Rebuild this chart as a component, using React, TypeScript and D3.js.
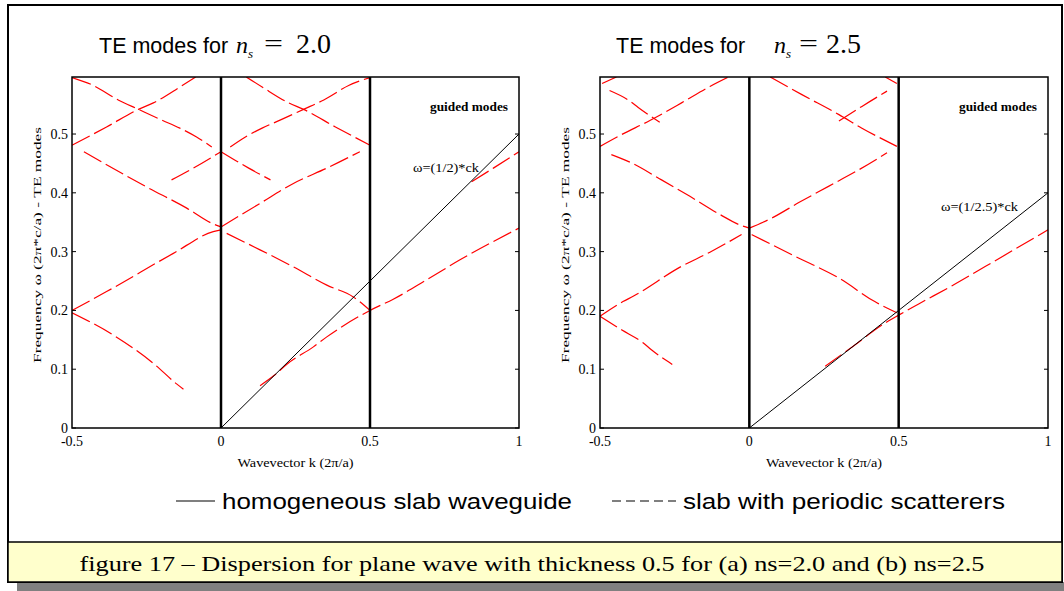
import React from "react";
import * as d3 from "d3";

// ---------- data ----------
const kTicks = [-0.5, 0, 0.5, 1];
const kTickLabels = ["-0.5", "0", "0.5", "1"];
const wTicks = [0, 0.1, 0.2, 0.3, 0.4, 0.5];
const wTickLabels = ["0", "0.1", "0.2", "0.3", "0.4", "0.5"];
const kDomain = [-0.5, 1];
const wDomain = [0, 0.597];
const zoneEdges = [0, 0.5];

// ns = 2.0 : bands of the slab with periodic scatterers
const bandsNs20: [number, number][][] = [
  [[-0.5, 0.2], [-0.384, 0.232], [-0.16, 0.297], [-0.026, 0.334], [0, 0.337]],
  [[-0.5, 0.196], [-0.361, 0.158], [-0.227, 0.11], [-0.149, 0.075], [-0.126, 0.066]],
  [[-0.46, 0.47], [-0.25, 0.41], [-0.115, 0.374], [-0.03, 0.348], [0, 0.342]],
  [[-0.5, 0.481], [-0.384, 0.512], [-0.277, 0.542], [-0.227, 0.553], [-0.138, 0.58], [-0.085, 0.597]],
  [[-0.5, 0.596], [-0.43, 0.583], [-0.345, 0.558], [-0.277, 0.542], [-0.2, 0.524], [-0.138, 0.51], [-0.082, 0.495], [-0.031, 0.478]],
  [[-0.166, 0.422], [-0.093, 0.442], [0, 0.47]],
  [[0, 0.342], [0.131, 0.382], [0.243, 0.416], [0.355, 0.442], [0.466, 0.47]],
  [[0.019, 0.331], [0.131, 0.303], [0.243, 0.274], [0.355, 0.243], [0.444, 0.223], [0.5, 0.2]],
  [[0, 0.47], [0.093, 0.442], [0.166, 0.422]],
  [[0.031, 0.478], [0.082, 0.495], [0.138, 0.51], [0.2, 0.524], [0.277, 0.542], [0.345, 0.558], [0.43, 0.583], [0.5, 0.596]],
  [[0.085, 0.597], [0.138, 0.58], [0.227, 0.553], [0.277, 0.542], [0.384, 0.512], [0.5, 0.481]],
  [[0.131, 0.072], [0.18, 0.09], [0.22, 0.108], [0.31, 0.138], [0.355, 0.155], [0.5, 0.2], [0.578, 0.219], [0.69, 0.252], [0.802, 0.286], [1, 0.34]],
  [[0.841, 0.419], [0.914, 0.442], [1, 0.47]],
];

// ns = 2.5
const bandsNs25: [number, number][][] = [
  [[-0.5, 0.19], [-0.423, 0.215], [-0.389, 0.224], [-0.227, 0.275], [-0.132, 0.299], [-0.026, 0.329]],
  [[-0.5, 0.19], [-0.428, 0.167], [-0.356, 0.145], [-0.328, 0.133], [-0.258, 0.108]],
  [[-0.462, 0.465], [-0.395, 0.451], [-0.294, 0.422], [-0.199, 0.394], [-0.098, 0.363], [-0.03, 0.345], [0, 0.34]],
  [[-0.5, 0.479], [-0.428, 0.499], [-0.333, 0.523], [-0.3, 0.532], [-0.227, 0.553], [-0.132, 0.581], [-0.07, 0.597]],
  [[-0.468, 0.574], [-0.4, 0.556], [-0.372, 0.545], [-0.3, 0.52]],
  [[-0.493, 0.586], [-0.445, 0.597]],
  [[0, 0.34], [0.075, 0.357], [0.164, 0.383], [0.265, 0.411], [0.366, 0.439], [0.461, 0.468]],
  [[0.008, 0.329], [0.153, 0.292], [0.3, 0.255], [0.42, 0.215], [0.494, 0.196]],
  [[0.07, 0.597], [0.176, 0.567], [0.3, 0.533], [0.377, 0.51], [0.494, 0.479]],
  [[0.3, 0.522], [0.377, 0.547], [0.461, 0.573]],
  [[0.455, 0.597], [0.494, 0.586]],
  [[0.254, 0.105], [0.35, 0.14], [0.45, 0.177], [0.5, 0.192], [0.567, 0.211], [0.679, 0.242], [0.791, 0.275], [1, 0.337]],
];

// homogeneous slab waveguide (light line)
const lightNs20: [number, number][] = [[0, 0], [1, 0.5]];
const lightNs25: [number, number][] = [[0, 0], [1, 0.4]];

const titleNs = ["2.0", "2.5"];
const lightLabels = ["ω=(1/2)*ck", "ω=(1/2.5)*ck"];
const yAxisTitle = "Frequency ω (2π*c/a)   -   TE modes";
const xAxisTitle = "Wavevector k (2π/a)";
const legendSolid = "homogeneous slab waveguide";
const legendDashed = "slab with periodic scatterers";
const caption = "figure 17 – Dispersion for plane wave with thickness 0.5 for (a) ns=2.0 and (b) ns=2.5";

// ---------- layout ----------
const W = 1064;
const H = 591;
const SERIF = "'Liberation Serif', 'Times New Roman', serif";
const SANS = "'Liberation Sans', Arial, sans-serif";

type PanelProps = {
  x0: number;
  x1: number;
  bands: [number, number][][];
  light: [number, number][];
  ns: string;
  lightLabel: string;
  lightLabelPos: [number, number, number];
  titleX: number;
  titleNX: number;
  titleEqX: number;
  titleNumX: number;
  yTitleX: number;
};

function Panel(p: PanelProps) {
  const top = 77;
  const bottom = 428;
  const x = d3.scaleLinear().domain(kDomain).range([p.x0, p.x1]);
  const y = d3.scaleLinear().domain(wDomain).range([bottom, top]);
  const line = d3
    .line<[number, number]>()
    .x((d) => x(d[0]))
    .y((d) => y(d[1]))
    .curve(d3.curveMonotoneX);
  const straight = d3
    .line<[number, number]>()
    .x((d) => x(d[0]))
    .y((d) => y(d[1]));
  const clipId = "clip" + p.x0;
  return (
    <g>
      <defs>
        <clipPath id={clipId}>
          <rect x={p.x0} y={top} width={p.x1 - p.x0} height={bottom - top} />
        </clipPath>
      </defs>
      {/* title */}
      <text x={p.titleX} y={53} fontFamily={SANS} fontSize={21.5} fill="#000">
        TE modes for
      </text>
      <text x={p.titleNX} y={53} fontFamily={SERIF} fontStyle="italic" fontSize={24} fill="#000">
        n
      </text>
      <text x={p.titleNX + 12} y={58} fontFamily={SERIF} fontStyle="italic" fontSize={13} fill="#000">
        s
      </text>
      <text
        x={p.titleEqX}
        y={52}
        fontFamily={SERIF}
        fontSize={25}
        textLength={19}
        lengthAdjust="spacingAndGlyphs"
        fill="#000"
      >
        =
      </text>
      <text x={p.titleNumX} y={53} fontFamily={SERIF} fontSize={28} fill="#000">
        {p.ns}
      </text>

      <g clipPath={`url(#${clipId})`}>
        {p.bands.map((b, i) => (
          <path
            key={i}
            d={line(b) || ""}
            fill="none"
            stroke="#ff0000"
            strokeWidth={1.2}
            strokeDasharray="20,5"
          />
        ))}
        <path d={straight(p.light) || ""} fill="none" stroke="#000" strokeWidth={1} />
      </g>

      {zoneEdges.map((k) => (
        <line key={k} x1={x(k)} x2={x(k)} y1={top} y2={bottom} stroke="#000" strokeWidth={2.5} />
      ))}

      <rect
        x={p.x0}
        y={top}
        width={p.x1 - p.x0}
        height={bottom - top}
        fill="none"
        stroke="#000"
        strokeWidth={1.5}
      />

      {wTicks.map((t, i) => (
        <g key={t}>
          <line x1={p.x0} x2={p.x0 + 4} y1={y(t)} y2={y(t)} stroke="#000" strokeWidth={1} />
          <line x1={p.x1} x2={p.x1 - 4} y1={y(t)} y2={y(t)} stroke="#000" strokeWidth={1} />
          <text
            x={p.x0 - 4}
            y={y(t) + 5}
            textAnchor="end"
            fontFamily={SERIF}
            fontSize={14}
            fill="#000"
          >
            {wTickLabels[i]}
          </text>
        </g>
      ))}
      {kTicks.map((t, i) => (
        <text
          key={t}
          x={x(t)}
          y={446}
          textAnchor="middle"
          fontFamily={SERIF}
          fontSize={14}
          fill="#000"
        >
          {kTickLabels[i]}
        </text>
      ))}

      <text
        x={(p.x0 + p.x1) / 2}
        y={467}
        textAnchor="middle"
        fontFamily={SERIF}
        fontSize={12}
        textLength={116}
        lengthAdjust="spacingAndGlyphs"
        fill="#000"
      >
        {xAxisTitle}
      </text>
      <text
        transform={`translate(${p.yTitleX},245) rotate(-90)`}
        textAnchor="middle"
        fontFamily={SERIF}
        fontSize={11}
        textLength={236}
        lengthAdjust="spacingAndGlyphs"
        fill="#000"
      >
        {yAxisTitle}
      </text>

      <text
        x={x(1) - 89}
        y={111}
        fontFamily={SERIF}
        fontSize={12}
        fontWeight="bold"
        textLength={78}
        lengthAdjust="spacingAndGlyphs"
        fill="#000"
      >
        guided modes
      </text>
      <text
        x={p.lightLabelPos[0]}
        y={p.lightLabelPos[1]}
        fontFamily={SERIF}
        fontSize={13}
        textLength={p.lightLabelPos[2]}
        lengthAdjust="spacingAndGlyphs"
        fill="#000"
      >
        {p.lightLabel}
      </text>
    </g>
  );
}

export default function App() {
  return (
    <svg
      width={W}
      height={H}
      style={{ position: "absolute", left: 0, top: 0, display: "block" }}
    >
      <rect x={0} y={0} width={W} height={H} fill="#fff" />
      {/* shadow */}
      <rect x={17} y={582} width={W - 17} height={9} fill="#808080" />
      {/* main frame */}
      <rect x={8} y={5} width={1054} height={577} fill="#fff" stroke="#000" strokeWidth={2} />
      {/* caption box */}
      <rect x={8} y={542} width={1054} height={40} fill="#ffffcc" stroke="#000" strokeWidth={1.5} />

      <Panel
        x0={72}
        x1={519}
        bands={bandsNs20}
        light={lightNs20}
        ns={titleNs[0]}
        lightLabel={lightLabels[0]}
        lightLabelPos={[413, 172, 66]}
        titleX={99}
        titleNX={236}
        titleEqX={264}
        titleNumX={296}
        yTitleX={41}
      />
      <Panel
        x0={600}
        x1={1048}
        bands={bandsNs25}
        light={lightNs25}
        ns={titleNs[1]}
        lightLabel={lightLabels[1]}
        lightLabelPos={[941, 211, 77]}
        titleX={616}
        titleNX={774}
        titleEqX={799}
        titleNumX={826}
        yTitleX={569}
      />

      {/* legend */}
      <line x1={176} x2={215} y1={501} y2={501} stroke="#000" strokeWidth={1.2} />
      <text
        x={222}
        y={509}
        fontFamily={SANS}
        fontSize={22}
        textLength={350}
        lengthAdjust="spacingAndGlyphs"
        fill="#000"
      >
        {legendSolid}
      </text>
      <line
        x1={612}
        x2={676}
        y1={501}
        y2={501}
        stroke="#000"
        strokeWidth={1.2}
        strokeDasharray="9,5"
      />
      <text
        x={683}
        y={509}
        fontFamily={SANS}
        fontSize={22}
        textLength={322}
        lengthAdjust="spacingAndGlyphs"
        fill="#000"
      >
        {legendDashed}
      </text>

      <text
        x={532}
        y={571}
        textAnchor="middle"
        fontFamily={SERIF}
        fontSize={21}
        textLength={905}
        lengthAdjust="spacingAndGlyphs"
        fill="#000"
      >
        {caption}
      </text>
    </svg>
  );
}
